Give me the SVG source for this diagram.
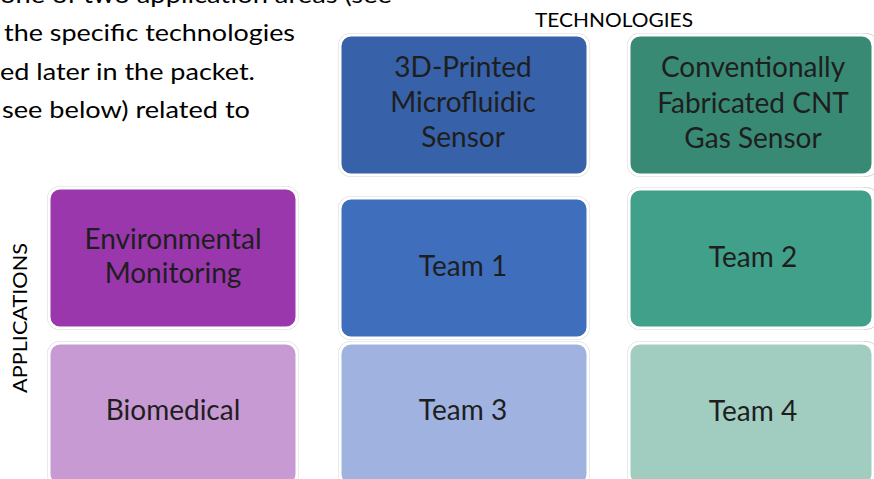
<svg xmlns="http://www.w3.org/2000/svg" width="874" height="479" viewBox="0 0 874 479">
<style>
.body{font-family:Lato,"Open Sans","Liberation Sans",sans-serif;font-size:24px;fill:#000}
.hdr{font-family:Lato,"Open Sans","Liberation Sans",sans-serif;font-size:20px;fill:#000}
.lbl{font-family:Lato,"Open Sans","Liberation Sans",sans-serif;font-size:28px;fill:#1e1e1e;text-anchor:middle}
.rim{stroke:#ffffff;stroke-width:3}
.edge{fill:none;stroke:#d4d4d4;stroke-width:1}
</style>
<rect width="874" height="479" fill="#ffffff"/>
<g id="body-text">
<text class="body" x="0" y="3" textLength="392" lengthAdjust="spacingAndGlyphs">one of two application areas (see</text>
<text class="body" x="4" y="41" textLength="291" lengthAdjust="spacingAndGlyphs">the specific technologies</text>
<text class="body" x="0" y="80" textLength="255" lengthAdjust="spacingAndGlyphs">ed later in the packet.</text>
<text class="body" x="2" y="118" textLength="248" lengthAdjust="spacingAndGlyphs">see below) related to</text>
</g>
<g id="technologies-label"><text class="hdr" x="535" y="27" textLength="158" lengthAdjust="spacingAndGlyphs">TECHNOLOGIES</text></g>
<g id="applications-label"><text class="hdr" transform="translate(27,393) rotate(-90)" x="0" y="0" textLength="150" lengthAdjust="spacingAndGlyphs">APPLICATIONS</text></g>

<g id="tech-3d">
<rect class="edge" x="338.5" y="33.5" width="251" height="143" rx="12"/>
<rect class="rim" x="340" y="35" width="248" height="140" rx="11" fill="#3761A8"/>
<text class="lbl" x="463" y="77">3D-Printed</text>
<text class="lbl" x="463" y="112">Microfluidic</text>
<text class="lbl" x="463" y="147">Sensor</text>
</g>
<g id="tech-cnt">
<rect class="edge" x="627.5" y="33.5" width="251" height="143" rx="12"/>
<rect class="rim" x="629" y="35" width="244" height="140" rx="11" fill="#388A74"/>
<text class="lbl" x="753" y="77">Conventionally</text>
<text class="lbl" x="753" y="113">Fabricated CNT</text>
<text class="lbl" x="753" y="148">Gas Sensor</text>
</g>
<g id="app-env">
<rect class="edge" x="47.5" y="186.5" width="251" height="143" rx="12"/>
<rect class="rim" x="49" y="188" width="248" height="140" rx="11" fill="#9B37AD"/>
<text class="lbl" x="173" y="249">Environmental</text>
<text class="lbl" x="173" y="283">Monitoring</text>
</g>
<g id="app-bio">
<rect class="edge" x="47.5" y="341.5" width="251" height="145" rx="12"/>
<rect class="rim" x="49" y="343" width="248" height="142" rx="11" fill="#C89AD4"/>
<text class="lbl" x="173" y="420">Biomedical</text>
</g>
<g id="team-1">
<rect class="edge" x="338.5" y="196.5" width="251" height="143" rx="12"/>
<rect class="rim" x="340" y="198" width="248" height="140" rx="11" fill="#3F6EBD"/>
<text class="lbl" x="463" y="276">Team 1</text>
</g>
<g id="team-2">
<rect class="edge" x="627.5" y="187.5" width="251" height="142" rx="12"/>
<rect class="rim" x="629" y="189" width="244" height="139" rx="11" fill="#41A08A"/>
<text class="lbl" x="753" y="267">Team 2</text>
</g>
<g id="team-3">
<rect class="edge" x="338.5" y="341.5" width="251" height="145" rx="12"/>
<rect class="rim" x="340" y="343" width="248" height="142" rx="11" fill="#9FB2E0"/>
<text class="lbl" x="463" y="420">Team 3</text>
</g>
<g id="team-4">
<rect class="edge" x="627.5" y="341.5" width="251" height="145" rx="12"/>
<rect class="rim" x="629" y="343" width="244" height="142" rx="11" fill="#A0CDC0"/>
<text class="lbl" x="753" y="421">Team 4</text>
</g>
<g id="connectors"></g>
</svg>
